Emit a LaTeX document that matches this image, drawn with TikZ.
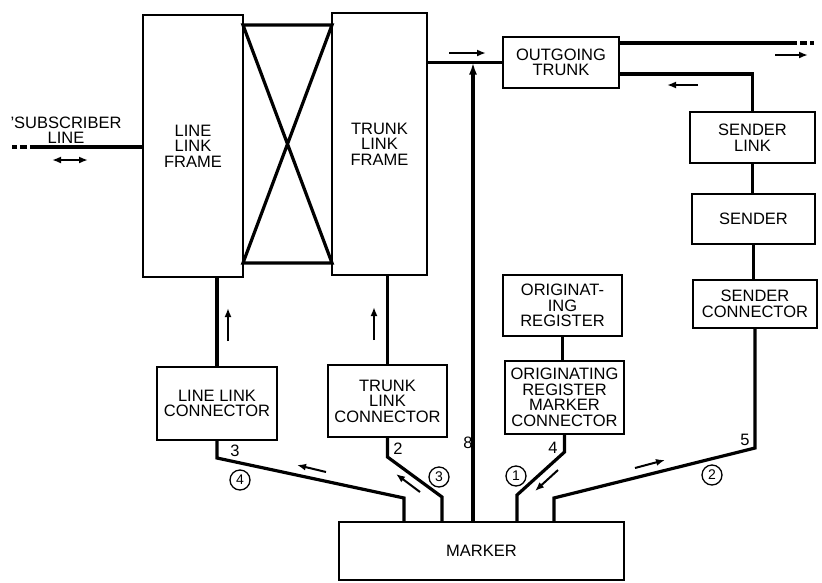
\documentclass[tikz,border=0pt]{standalone}
\usepackage{fontspec}
\setmainfont{Liberation Sans}
\usetikzlibrary{arrows.meta,positioning,calc}

\begin{document}
\begin{tikzpicture}[x=1pt,y=-1pt,font=\fontsize{16.5}{15.5}\selectfont,
  box/.style={draw,line width=1.3pt,align=center,inner sep=0pt},
  conn/.style={line width=3.2pt},
  dirarr/.style={line width=2pt,-{Latex[length=9pt,width=7pt]}},
  circnum/.style={draw,circle,line width=1.3pt,minimum size=20pt,inner sep=0pt,font=\fontsize{14}{14}\selectfont}]
\useasboundingbox (0,0) rectangle (822,582);
% frames
\node[box,minimum width=100pt,minimum height=262pt] (llf) at (193,146) {LINE\\LINK\\FRAME};
\node[box,minimum width=95pt,minimum height=262pt] (tlf) at (379.5,144) {TRUNK\\LINK\\FRAME};
\coordinate (xa) at (243,25);
\coordinate (xb) at (332,25);
\coordinate (xc) at (243,263);
\coordinate (xd) at (332,263);
\draw[conn] (xa) -- (xb) -- (xc) -- (xd) -- cycle;
% boxes
\node[box,minimum width=116pt,minimum height=51pt] (ot) at (561,62.5) {OUTGOING\\TRUNK};
\node[box,minimum width=125pt,minimum height=51pt] (sl) at (752.5,137.5) {SENDER\\LINK};
\node[box,minimum width=123pt,minimum height=50pt] (snd) at (753.5,219) {SENDER};
\node[box,minimum width=124pt,minimum height=48pt] (sc) at (755,304) {SENDER\\CONNECTOR};
\node[box,minimum width=119pt,minimum height=61pt] (oreg) at (562.5,305.5) {ORIGINAT-\\ING\\REGISTER};
\node[box,minimum width=119pt,minimum height=73pt] (ormc) at (564.5,397.5) {ORIGINATING\\REGISTER\\MARKER\\CONNECTOR};
\node[box,minimum width=120pt,minimum height=73pt] (llc) at (217,403.5) {LINE LINK\\CONNECTOR};
\node[box,minimum width=119pt,minimum height=72pt] (tlc) at (387.5,401) {TRUNK\\LINK\\CONNECTOR};
\node[box,minimum width=285pt,minimum height=58pt] (mk) at (481.5,551) {MARKER};
% subscriber line
\node[align=center] (subl) at (66,130) {'SUBSCRIBER\\LINE};
\coordinate (sub) at (37,147);
\coordinate (subfar) at (12,147);
\draw[conn] (sub) -- (llf.west |- sub);
\draw[conn,dash pattern=on 7pt off 3pt] (sub) -- (subfar);
% trunk side
\draw[conn] (tlf.east |- ot.west) -- (ot.west);
\coordinate (otr) at (790,43);
\coordinate (otfar) at (814,43);
\draw[conn] (ot.east |- otr) -- (otr);
\draw[conn,dash pattern=on 7pt off 3pt] (otr) -- (otfar);
\coordinate (tsl) at (752.5,74);
\draw[conn] (ot.east |- tsl) -- (tsl) -- (sl.north);
\draw[conn] (sl.south) -- (sl.south |- snd.north);
\draw[conn] (snd.south) -- (snd.south |- sc.north);
\draw[conn] (oreg.south) -- (oreg.south |- ormc.north);
% links down to connectors
\draw[conn] (llc.north |- llf.south) -- (llc.north);
\draw[conn] (tlc.north |- tlf.south) -- (tlc.north);
% paths to marker
\coordinate (b3) at (217,458);
\coordinate (c3) at (404,498);
\draw[conn] (llc.south) -- (b3) -- (c3) -- (c3 |- mk.north);
\coordinate (b2) at (387.5,457);
\coordinate (c2) at (442,497);
\draw[conn] (tlc.south) -- (b2) -- (c2) -- (c2 |- mk.north);
\coordinate (j8) at (473,62.5);
\draw[conn,-{Latex[length=12pt,width=8pt]}] (j8 |- mk.north) -- (j8);
\coordinate (b4) at (564.5,452);
\coordinate (c4) at (517,495);
\draw[conn] (ormc.south) -- (b4) -- (c4) -- (c4 |- mk.north);
\coordinate (b5) at (755,448);
\coordinate (c5) at (554,498);
\draw[conn] (sc.south) -- (b5) -- (c5) -- (c5 |- mk.north);
% wire numbers
\node (n3) at (235,451) {3};
\node (n2) at (398,449) {2};
\node (n8) at (468,443) {8};
\node (n4) at (553,448) {4};
\node (n5) at (745,440) {5};
\node[circnum] (s4) at (240,480) {4};
\node[circnum] (s3) at (439,477) {3};
\node[circnum] (s1) at (516,476) {1};
\node[circnum] (s2) at (712,475) {2};
% direction arrows
\draw[line width=2pt,{Latex[length=9pt,width=7pt]}-{Latex[length=9pt,width=7pt]}] (52,160) -- (88,160);
\draw[dirarr] (449,53) -- (486,53);
\draw[dirarr] (775,55) -- (808,55);
\draw[dirarr] (698,85) -- (667,85);
\draw[dirarr] (228,341) -- (228,308);
\draw[dirarr] (374,340) -- (374,307);
\draw[dirarr] (326,472) -- (297,465);
\draw[dirarr] (420,492) -- (396,474);
\draw[dirarr] (558,470) -- (535,491);
\draw[dirarr] (635,468) -- (665,460);
\end{tikzpicture}
\end{document}
